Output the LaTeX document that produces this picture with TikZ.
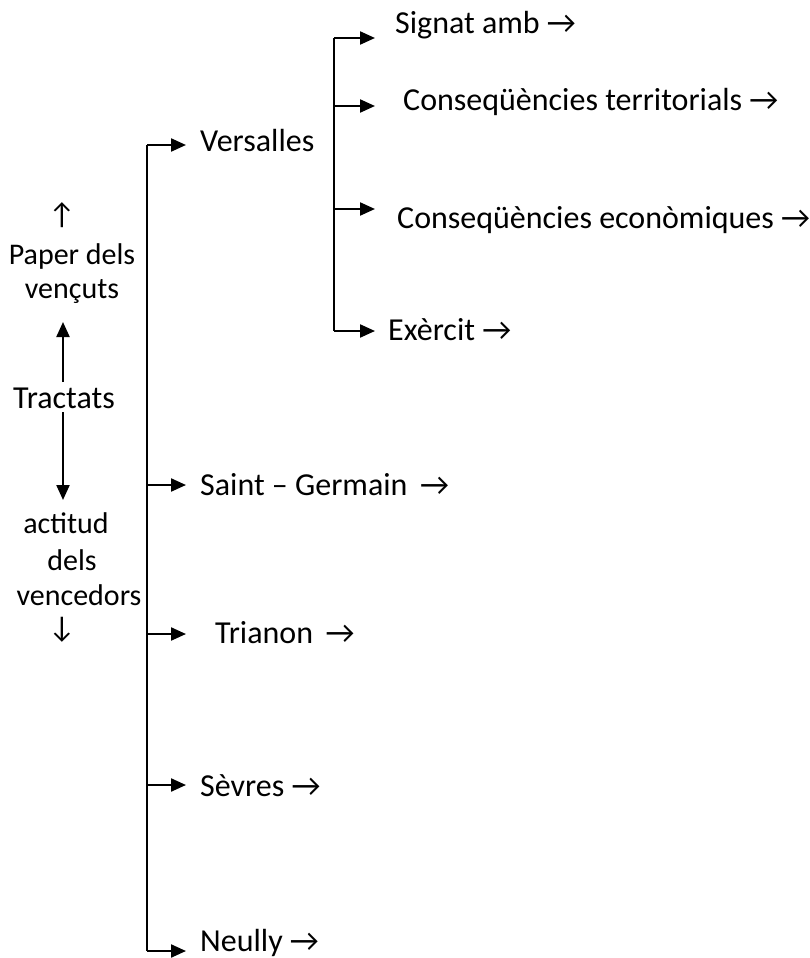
\documentclass[tikz,border=0pt]{standalone}
\usepackage{fontspec}
\setmainfont{Carlito}
\usetikzlibrary{arrows.meta}
\begin{document}
\begin{tikzpicture}[x=1pt,y=-1pt,
  lbl/.style={font=\fontsize{32}{36}\selectfont, inner sep=0pt, anchor=west},
  side/.style={font=\fontsize{30}{34}\selectfont, inner sep=0pt},
  link/.style={line width=2.2pt},
  arr/.style={line width=2.2pt, -{Triangle[length=15pt,width=13pt]}}]
\useasboundingbox (0,0) rectangle (809,958);
% left column
\node[side] (up) at (62,215) {↑};
\node[side] (paper) at (72,256) {Paper dels};
\node[side] (vencuts) at (72,292) {vençuts};
\node[font=\fontsize{32}{36}\selectfont, inner sep=0pt] (tractats) at (64,398) {Tractats};
\node[side] (actitud) at (66,523) {actitud};
\node[side] (dels) at (72,560) {dels};
\node[side] (vencedors) at (79,595) {vencedors};
\node[side] (down) at (62,630) {↓};
\coordinate (ut) at (63,382);
\coordinate (uh) at (63,322);
\coordinate (dt) at (63,412);
\coordinate (dh) at (63,500);
\draw[arr] (ut) -- (uh);
\draw[arr] (dt) -- (dh);
% main tree
\node[lbl] (vers) at (200,141) {Versalles};
\node[lbl] (sg) at (200,485) {Saint – Germain \,→};
\node[lbl] (tri) at (215,633) {Trianon \,→};
\node[lbl] (sev) at (200,786) {Sèvres →};
\node[lbl] (neu) at (200,943) {Neully →};
\coordinate (m1) at (147,145);
\coordinate (m2) at (147,485);
\coordinate (m3) at (147,634);
\coordinate (m4) at (147,785);
\coordinate (m5) at (147,951);
\draw[link] (m1) -- (m5);
\foreach \c in {m1,m2,m3,m4,m5} \draw[arr] (\c) -- ++(39,0);
% Versalles subtree
\node[lbl] (sig) at (395,25) {Signat amb →};
\node[lbl] (ter) at (403,102) {Conseqüències territorials →};
\node[lbl] (eco) at (397,220) {Conseqüències econòmiques →};
\node[lbl] (exe) at (388,330) {Exèrcit →};
\coordinate (s1) at (334,38);
\coordinate (s2) at (334,106);
\coordinate (s3) at (334,209);
\coordinate (s4) at (334,331);
\draw[link] (s1) -- (s4);
\foreach \c in {s1,s2,s3,s4} \draw[arr] (\c) -- ++(41,0);
\end{tikzpicture}
\end{document}
